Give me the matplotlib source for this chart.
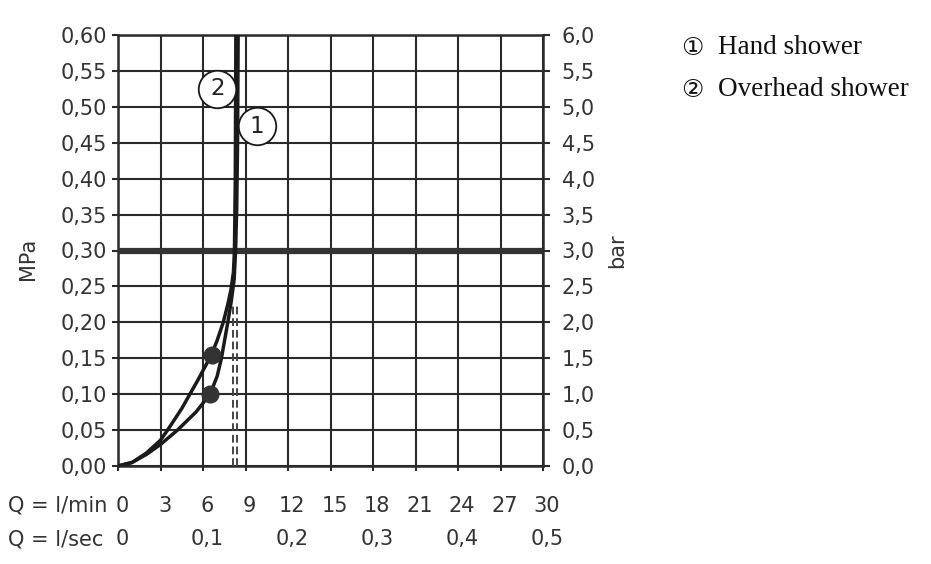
import numpy as np
import matplotlib
matplotlib.use("Agg")
import matplotlib.pyplot as plt
import matplotlib.transforms as mtrans

# flow in l/min, pressure in MPa
flow_lmin = [0, 3, 6, 9, 12, 15, 18, 21, 24, 27, 30]
flow_lsec = [0, 0.1, 0.2, 0.3, 0.4, 0.5]
mpa_ticks = [0.00, 0.05, 0.10, 0.15, 0.20, 0.25, 0.30, 0.35, 0.40, 0.45, 0.50, 0.55, 0.60]
bar_ticks = [0.0, 0.5, 1.0, 1.5, 2.0, 2.5, 3.0, 3.5, 4.0, 4.5, 5.0, 5.5, 6.0]

# curve 2 (upper marker)
q2 = [0, 1, 2, 3, 3.5, 4.5, 5.65, 6.6, 7.0, 7.43, 7.75, 7.97, 8.15, 8.22, 8.28, 8.32]
p2 = [0, 0.005, 0.018, 0.036, 0.05, 0.08, 0.12, 0.155, 0.175, 0.20, 0.225, 0.245, 0.27, 0.30, 0.40, 0.60]
# curve 1 (lower marker)
q1 = [0, 1, 2, 3, 4.2, 5.5, 6.5, 7.0, 7.3, 7.75, 8.0, 8.2, 8.3, 8.38, 8.44, 8.48]
p1 = [0, 0.005, 0.016, 0.03, 0.05, 0.075, 0.10, 0.125, 0.15, 0.20, 0.23, 0.26, 0.30, 0.36, 0.45, 0.60]

marker_q = [6.6, 6.5]
marker_p = [0.155, 0.10]

limit_p = 0.30
dash_q = [8.13, 8.37]
dash_top = 0.225

labels = ["1", "2"]
label_q = [9.79, 7.0]
label_p = [0.473, 0.525]
legend = ["Hand shower", "Overhead shower"]
circled = ["\u2460", "\u2461"]

W, H = 931, 564
fig = plt.figure(figsize=(W / 100, H / 100), dpi=100)
ax = fig.add_axes([118 / W, 1 - 466 / H, 425 / W, 431 / H])

dark = "#2a2a2a"
txt = "#333333"
font = "DejaVu Sans"
fs = 15

ax.set_xlim(0, 30)
ax.set_ylim(0, 0.6)
ax.set_xticks(flow_lmin)
ax.set_yticks(mpa_ticks)
ax.grid(True, color=dark, linewidth=1.5)
ax.set_axisbelow(True)
for s in ax.spines.values():
    s.set_color(dark)
    s.set_linewidth(1.8)

ax.set_yticklabels([f"{v:.2f}".replace(".", ",") for v in mpa_ticks],
                   fontsize=fs, color=txt, family=font)
ax.set_xticklabels([str(v) for v in flow_lmin], fontsize=fs, color=txt, family=font)
ax.tick_params(axis="y", direction="out", length=4.5, width=1.5, color=dark, pad=3.6)
ax.tick_params(axis="x", direction="out", length=3.6, width=1.5, color=dark, pad=18.2)
shift = mtrans.ScaledTranslation(4 / 100, 0, fig.dpi_scale_trans)
for lab in ax.get_xticklabels():
    lab.set_transform(lab.get_transform() + shift)

ax.set_ylabel("MPa", fontsize=fs, color=txt, family=font)
ax.yaxis.set_label_coords((38 - 118) / 425, 0.48)

# second row: l/sec
sec = ax.secondary_xaxis("bottom", functions=(lambda x: x / 60, lambda x: x * 60))
sec.set_xticks(flow_lsec)
sec.set_xticklabels(["0" if v == 0 else f"{v:.1f}".replace(".", ",") for v in flow_lsec],
                    fontsize=fs, color=txt, family=font)
sec.tick_params(axis="x", length=0, pad=45.5)
sec.spines["bottom"].set_visible(False)
for lab in sec.get_xticklabels():
    lab.set_transform(lab.get_transform() + shift)

# right axis in bar
ax2 = ax.twinx()
ax2.set_ylim(0, 6)
ax2.set_yticks(bar_ticks)
ax2.set_yticklabels([f"{v:.1f}".replace(".", ",") for v in bar_ticks],
                    fontsize=fs, color=txt, family=font)
ax2.tick_params(axis="y", direction="out", length=5, width=1.5, color=dark, pad=8.5)
for s in ax2.spines.values():
    s.set_visible(False)
ax2.set_ylabel("bar", fontsize=fs, color=txt, family=font)
ax2.yaxis.set_label_coords((607 - 118) / 425, 0.5)

# limit line
ax.axhline(limit_p, color="#333333", linewidth=4.5, zorder=3)

# dashed double line
for q in dash_q:
    ax.plot([q, q], [0, dash_top], color="#444444", linewidth=1.4,
            dashes=(4, 2), zorder=3)

ax.plot(q2, p2, color="#1a1a1a", linewidth=2.5, zorder=4, solid_capstyle="butt")
ax.plot(q1, p1, color="#1a1a1a", linewidth=2.5, zorder=4, solid_capstyle="butt")
ax.plot(marker_q, marker_p, "o", color="#333333", markersize=12, zorder=5, linestyle="none")

for lab, q, p in zip(labels, label_q, label_p):
    ax.plot([q], [p], "o", markersize=27, markerfacecolor="white",
            markeredgecolor="#1a1a1a", markeredgewidth=1.3, zorder=6, clip_on=False)
    ax.text(q, p, lab, ha="center", va="center", fontsize=16.5, color="#222222",
            family=font, zorder=7)

# row titles
fig.text(8 / W, 1 - 512 / H, "Q = l/min", fontsize=fs, color=txt,
         family=font, ha="left", va="baseline")
fig.text(8 / W, 1 - 545 / H, "Q = l/sec", fontsize=fs, color=txt,
         family=font, ha="left", va="baseline")

# legend
for i, (c, t) in enumerate(zip(circled, legend)):
    y = 1 - (48 + 42 * i) / H
    fig.text(692 / W, y, c, fontsize=18, family="DejaVu Sans", color="#111111",
             ha="center", va="center")
    fig.text(718 / W, y, t, fontsize=19.5, family="Liberation Serif", color="#111111",
             ha="left", va="center")

fig.savefig("out.png", dpi=100)
